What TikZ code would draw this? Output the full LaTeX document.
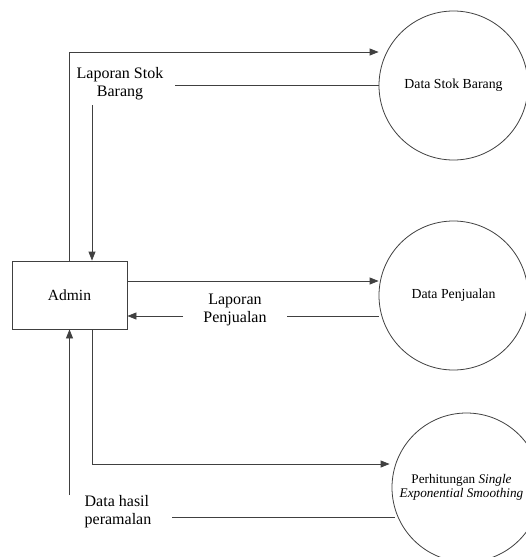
\documentclass[tikz,border=0pt]{standalone}
\usepackage{fontspec}
\setmainfont{Liberation Serif}
\usetikzlibrary{arrows.meta}
\begin{document}
\begin{tikzpicture}[x=1pt,y=-1pt,
  flow/.style={draw=black!75, line width=0.8pt},
  arr/.style={flow, -{Triangle[length=9pt,width=7pt]}},
  store/.style={circle, draw=black!75, line width=0.8pt, minimum size=149pt, inner sep=0pt, align=center, font=\fontsize{13.8}{13.5}\selectfont},
  ent/.style={draw=black!75, line width=0.8pt, minimum width=115pt, minimum height=68pt, font=\fontsize{15.5}{18}\selectfont},
  lbl/.style={align=center, inner sep=0pt, font=\fontsize{16}{18}\selectfont}]
\clip (0,0) rectangle (526,557);
\fill[white] (0,0) rectangle (526,557);
\node[ent] (admin) at (69.5,295) {Admin};
\node[store] (c1) at (453.5,85.5) {Data Stok Barang};
\node[store] (c2) at (453.5,295.5) {Data Penjualan};
\node[store, font=\fontsize{13.2}{13.5}\selectfont] (c3) at (466.5,487.5) {\hspace*{-10pt}Perhitungan \textit{Single}\\\hspace*{-10pt}\textit{Exponential Smoothing}};
\node[lbl] (l1) at (120,84) {Laporan Stok\\Barang};
\node[lbl] (l2) at (235,310) {Laporan\\Penjualan};
\node[lbl, align=left] (l3) at (118,512) {Data hasil\\peramalan};
\coordinate (a1) at (175,85.5);
\coordinate (b1) at (92,105);
\coordinate (a2) at (287,316);
\coordinate (b2) at (183,316);
\coordinate (a3) at (69.5,495);
\coordinate (b3) at (172,517);
% flows
\draw[arr] (admin.north) |- (c1.west |- 0,52);
\draw[flow] (c1.west) -- (a1);
\draw[arr] (b1) -- (admin.north -| b1);
\draw[arr] (admin.east |- 0,281) -- (c2.west |- 0,281);
\draw[flow] (c2.west |- a2) -- (a2);
\draw[arr] (b2) -- (admin.east |- b2);
\draw[arr] (admin.south -| b1) |- ([xshift=-2pt]c3.west |- 0,464);
\draw[arr] (a3) -- (admin.south);
\draw[flow] (b3) -- ([xshift=3pt]c3.west |- b3);
\end{tikzpicture}
\end{document}
